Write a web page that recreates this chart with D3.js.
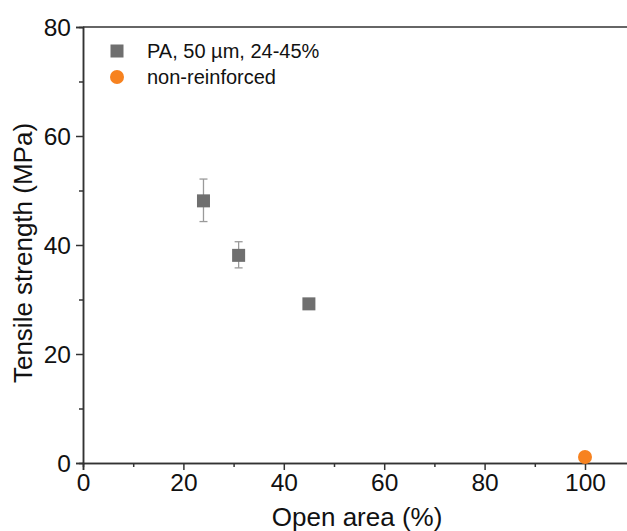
<!DOCTYPE html>
<html>
<head>
<meta charset="UTF-8">
<script src="https://d3js.org/d3.v7.min.js"></script>
<style>
  body { margin: 0; background: #fff; }
  svg text { font-family: "Liberation Sans", Arial, sans-serif; fill: #111; }
</style>
</head>
<body>
<div id="chart"></div>
<script>
// data
const paOpen = [24, 31, 45];
const paStrength = [48.1, 38.1, 29.2];
const paErrLow = [44.3, 35.8, 29.2];
const paErrHigh = [52.1, 40.6, 29.2];
const plainOpen = [100];
const plainStrength = [1.1];
const xTicks = [0, 20, 40, 60, 80, 100];
const yTicks = [0, 20, 40, 60, 80];
const legendLabels = ["PA, 50 µm, 24-45%", "non-reinforced"];

const width = 627, height = 531;
const margin = { top: 27, left: 83, bottom: 68 };

const svg = d3.select("#chart").append("svg")
    .attr("width", width).attr("height", height);

const x = d3.scaleLinear().domain([0, 110]).range([margin.left, margin.left + 110 * 5.02]);
const y = d3.scaleLinear().domain([0, 80]).range([height - margin.bottom, margin.top]);

const axisColor = "#333";

// x axis (major + minor)
const xAxis = svg.append("g").attr("transform", `translate(0,${y(0)})`);
xAxis.call(d3.axisBottom(x).tickValues(d3.range(10, 111, 20)).tickSize(4).tickFormat(""));
xAxis.call(g => g.append("g").call(d3.axisBottom(x).tickValues(xTicks).tickSize(7).tickPadding(4)));
xAxis.selectAll(".domain").attr("stroke", axisColor).attr("stroke-width", 1.5);
xAxis.selectAll("line").attr("stroke", axisColor).attr("stroke-width", 1.5);
xAxis.selectAll("text").style("font-size", "24.5px").attr("fill", "#111");

// y axis
const yAxis = svg.append("g").attr("transform", `translate(${x(0)},0)`);
yAxis.call(d3.axisLeft(y).tickValues(d3.range(10, 80, 20)).tickSize(4).tickFormat(""));
yAxis.call(g => g.append("g").call(d3.axisLeft(y).tickValues(yTicks).tickSize(7).tickPadding(5)));
yAxis.selectAll(".domain").attr("stroke", axisColor).attr("stroke-width", 1.5);
yAxis.selectAll("line").attr("stroke", axisColor).attr("stroke-width", 1.5);
yAxis.selectAll("text").style("font-size", "24.5px").attr("fill", "#111").attr("dy", "0.36em");

// top frame line
svg.append("line")
    .attr("x1", x(0)).attr("x2", x(110))
    .attr("y1", y(80)).attr("y2", y(80))
    .attr("stroke", axisColor).attr("stroke-width", 1.5);

// axis titles
svg.append("text")
    .attr("x", (x(0) + x(110)) / 2 - 2).attr("y", 526)
    .attr("text-anchor", "middle").style("font-size", "26px")
    .text("Open area (%)");
svg.append("text")
    .attr("transform", `translate(32,${(y(0) + y(80)) / 2 + 8}) rotate(-90)`)
    .attr("text-anchor", "middle").style("font-size", "26px")
    .text("Tensile strength (MPa)");

// error bars
const pa = paOpen.map((d, i) => ({ x: d, y: paStrength[i], lo: paErrLow[i], hi: paErrHigh[i] }));
const errColor = "#9a9a9a";
const eb = svg.append("g").selectAll("g").data(pa.filter(d => d.hi - d.lo > 0.5)).join("g");
eb.append("line")
    .attr("x1", d => x(d.x)).attr("x2", d => x(d.x))
    .attr("y1", d => y(d.lo)).attr("y2", d => y(d.hi))
    .attr("stroke", errColor).attr("stroke-width", 1.3);
["lo", "hi"].forEach(k => {
  eb.append("line")
    .attr("x1", d => x(d.x) - 4).attr("x2", d => x(d.x) + 4)
    .attr("y1", d => y(d[k])).attr("y2", d => y(d[k]))
    .attr("stroke", errColor).attr("stroke-width", 1.3);
});

// squares
const sq = 13;
const paColor = "#6f6f6f";
svg.append("g").selectAll("rect").data(pa).join("rect")
    .attr("x", d => x(d.x) - sq / 2).attr("y", d => y(d.y) - sq / 2)
    .attr("width", sq).attr("height", sq)
    .attr("fill", paColor);

// non-reinforced
const orange = "#f7821f";
svg.append("g").selectAll("circle").data(plainOpen.map((d, i) => ({ x: d, y: plainStrength[i] }))).join("circle")
    .attr("cx", d => x(d.x)).attr("cy", d => y(d.y)).attr("r", 7)
    .attr("fill", orange);

// legend
const leg = svg.append("g").attr("transform", "translate(117,51)");
leg.append("rect").attr("x", -6.5).attr("y", -6.5).attr("width", 13).attr("height", 13).attr("fill", paColor);
leg.append("circle").attr("cx", 0).attr("cy", 26).attr("r", 7).attr("fill", orange);
leg.selectAll("text").data(legendLabels).join("text")
    .attr("x", 30).attr("y", (d, i) => i * 26)
    .attr("dy", "0.36em")
    .style("font-size", "20px")
    .text(d => d);
</script>
</body>
</html>
